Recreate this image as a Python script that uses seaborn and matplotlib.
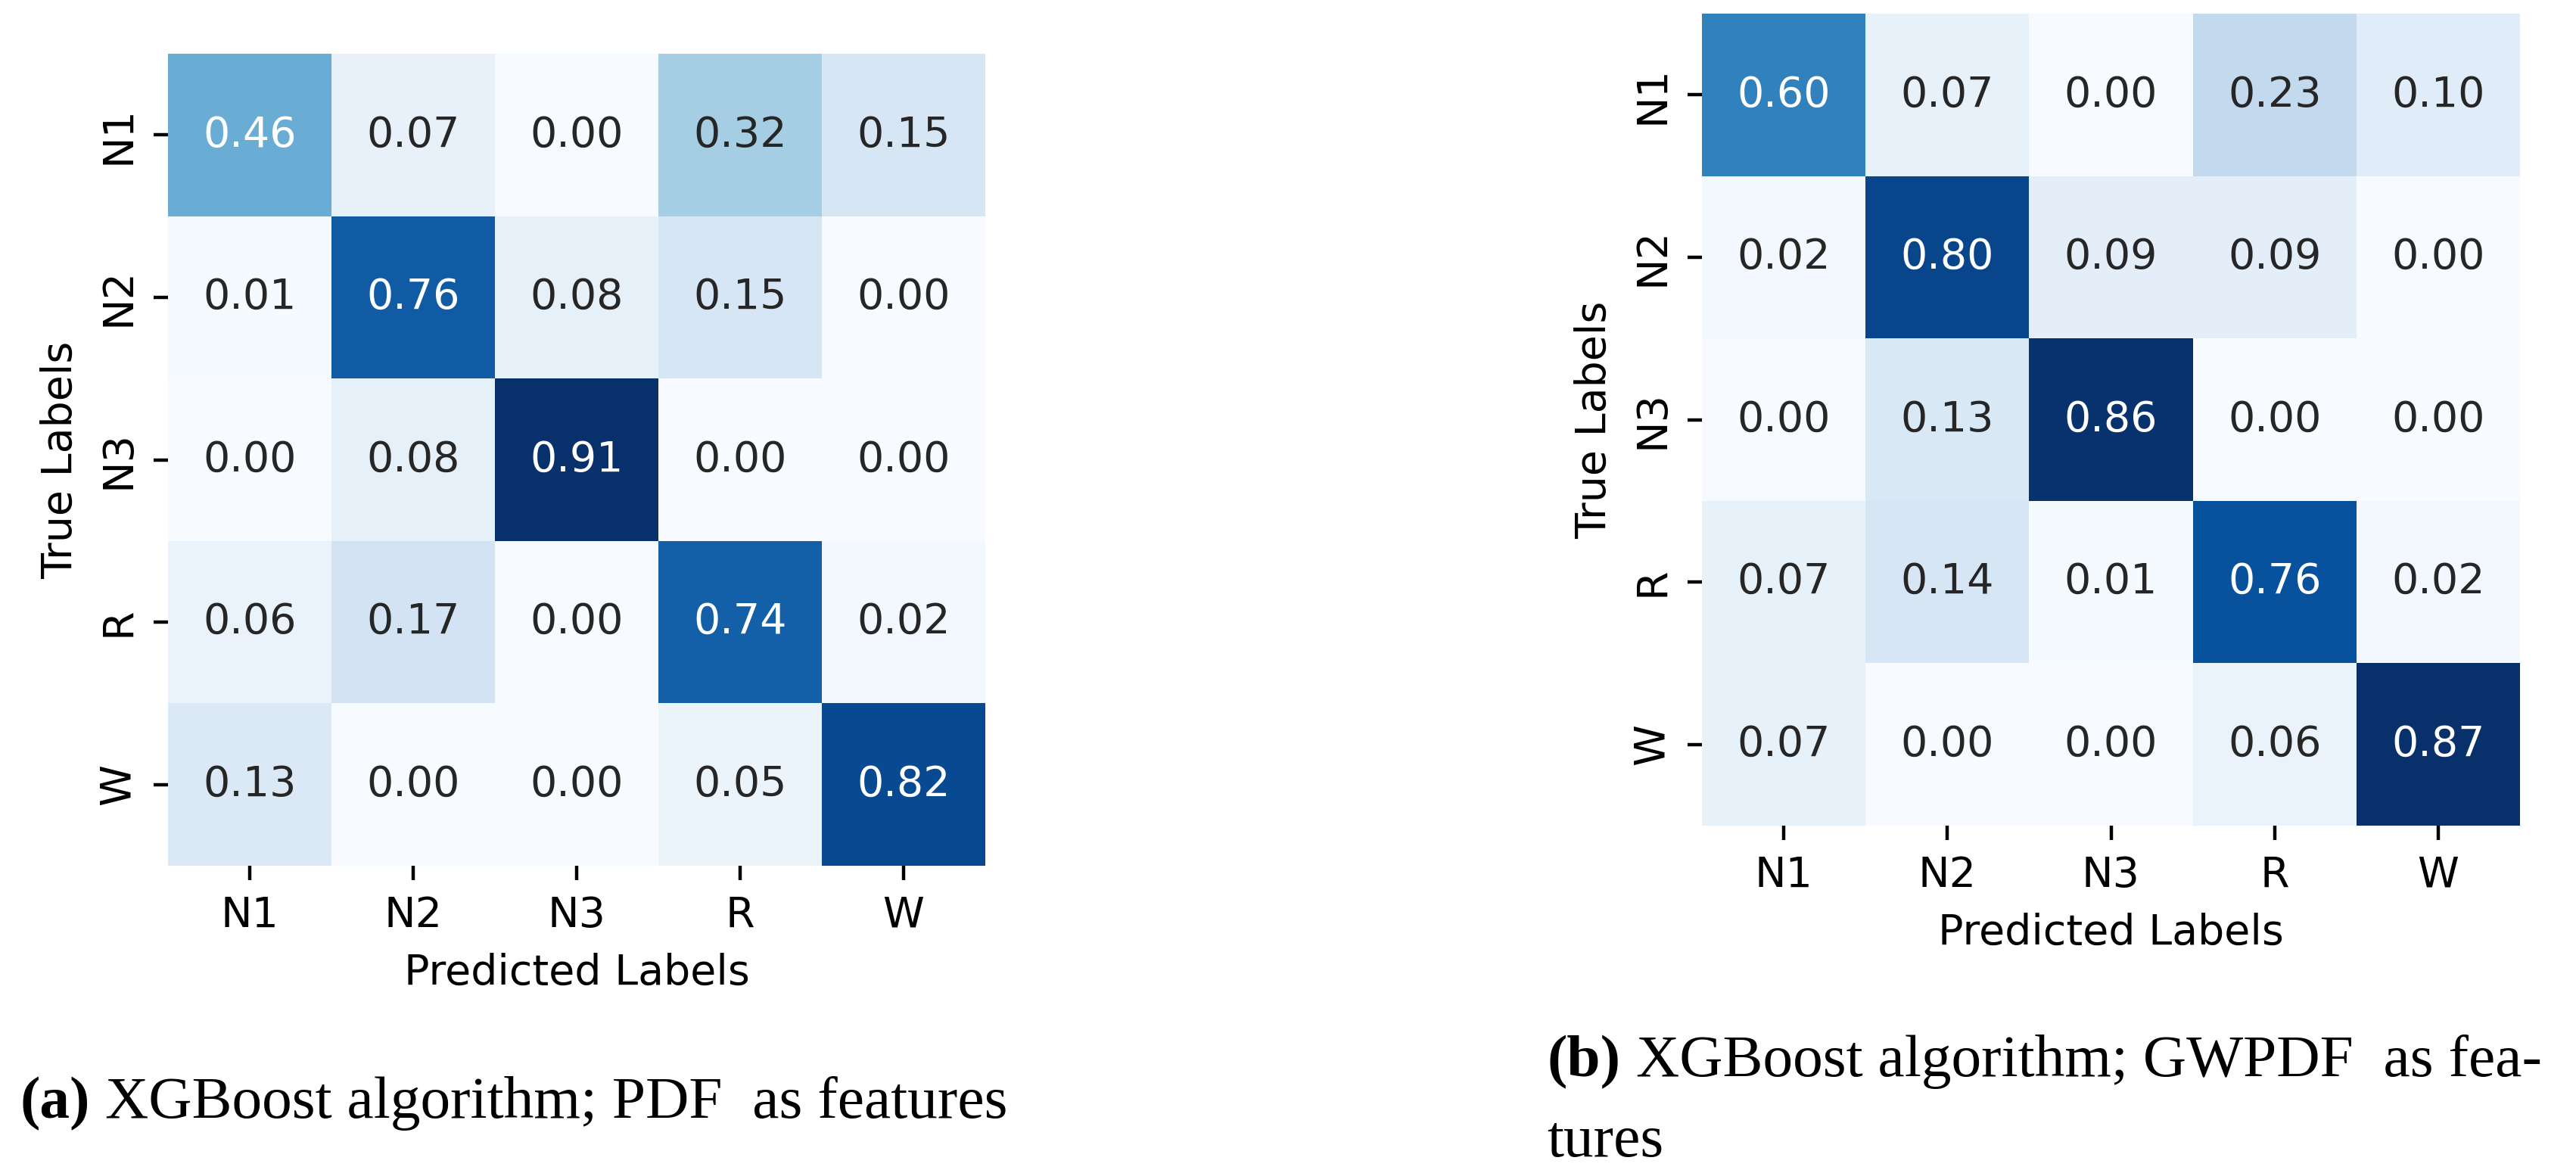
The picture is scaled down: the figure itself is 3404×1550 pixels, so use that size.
import matplotlib
matplotlib.use("Agg")
import matplotlib.pyplot as plt
import seaborn as sns
import pandas as pd

# confusion matrices
labels = ["N1", "N2", "N3", "R", "W"]

cm_pdf = [
    [0.46, 0.07, 0.00, 0.32, 0.15],
    [0.01, 0.76, 0.08, 0.15, 0.00],
    [0.00, 0.08, 0.91, 0.00, 0.00],
    [0.06, 0.17, 0.00, 0.74, 0.02],
    [0.13, 0.00, 0.00, 0.05, 0.82],
]

cm_gwpdf = [
    [0.60, 0.07, 0.00, 0.23, 0.10],
    [0.02, 0.80, 0.09, 0.09, 0.00],
    [0.00, 0.13, 0.86, 0.00, 0.00],
    [0.07, 0.14, 0.01, 0.76, 0.02],
    [0.07, 0.00, 0.00, 0.06, 0.87],
]

caption_a = ["XGBoost algorithm; PDF  as features"]
caption_b = ["XGBoost algorithm; GWPDF  as fea-", "tures"]

W, H = 3404, 1550
DPI = 400
fig = plt.figure(figsize=(W / DPI, H / DPI), dpi=DPI)


def px_axes(x0, y0, x1, y1):
    return fig.add_axes([x0 / W, (H - y1) / H, (x1 - x0) / W, (y1 - y0) / H])


def draw_cm(ax, cm):
    df = pd.DataFrame(cm, index=labels, columns=labels)
    sns.heatmap(df, ax=ax, cmap="Blues", annot=True, fmt=".2f", cbar=False)
    ax.set_xlabel("Predicted Labels")
    ax.set_ylabel("True Labels")


ax1 = px_axes(222, 71, 1302, 1144)
draw_cm(ax1, cm_pdf)
ax2 = px_axes(2249, 18, 3330, 1091)
draw_cm(ax2, cm_gwpdf)

cap_font = dict(family="Liberation Serif", size=14.3)
renderer = fig.canvas.get_renderer()


def caption(x, y, tag, lines, line_gap=106):
    t = fig.text(x / W, (H - y) / H, tag, fontweight="bold", va="baseline", **cap_font)
    bb = t.get_window_extent(renderer)
    fig.text(bb.x1 / W + 0.006, (H - y) / H, lines[0], va="baseline", **cap_font)
    for i, line in enumerate(lines[1:], start=1):
        fig.text(x / W, (H - y - i * line_gap) / H, line, va="baseline", **cap_font)


caption(26, 1477, "(a)", caption_a)
caption(2044, 1422, "(b)", caption_b)

fig.savefig("out.png", dpi=DPI)
